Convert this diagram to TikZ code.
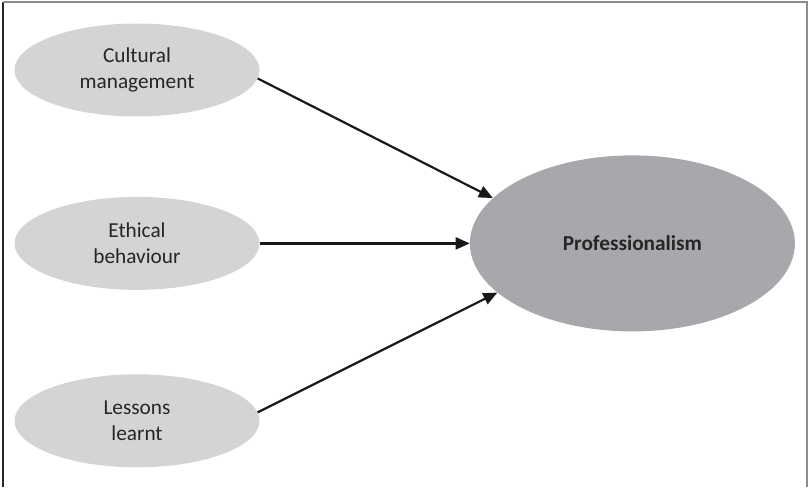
\documentclass[tikz,border=0pt]{standalone}
\usepackage{fontspec}
\setmainfont{Carlito}
\usepackage{xcolor}
\usetikzlibrary{arrows.meta, positioning, shapes.geometric}

\definecolor{lightoval}{HTML}{D4D4D6}
\definecolor{darkoval}{HTML}{A7A8AC}
\definecolor{framegray}{HTML}{8C8C8C}

\begin{document}
\begin{tikzpicture}[
    x=1pt, y=1pt,
    node distance=80pt,
    factor/.style={ellipse, fill=lightoval, text=black!85, minimum width=245pt, minimum height=93pt, inner sep=0pt, align=center, font=\fontsize{21.3}{26}\selectfont},
    outcome/.style={ellipse, fill=darkoval, text=black!85, minimum width=325pt, minimum height=176pt, inner sep=0pt, font=\fontsize{21.3}{26}\selectfont\bfseries},
    arrow/.style={-{Triangle[length=14pt, width=12pt]}, line width=2.2pt, black!90}
]

\useasboundingbox (0,0) rectangle (810,-487);
\draw[black!85, line width=1.4pt] (3,-487) -- (3,-2);
\draw[framegray, line width=1.8pt] (3,-2) -- (807,-2) -- (807,-487);

\node[factor] (cult) at (137,-70) {Cultural\\management};
\node[factor, below=of cult] (eth) {Ethical\\behaviour};
\node[factor, below=84pt of eth] (less) {Lessons\\learnt};
\node[outcome, right=210pt of eth] (prof) {Professionalism};

\draw[arrow] (cult.-4) -- (prof.162);
\draw[arrow] (eth) -- (prof);
\draw[arrow] (less.4) -- (prof.200);

\end{tikzpicture}
\end{document}
